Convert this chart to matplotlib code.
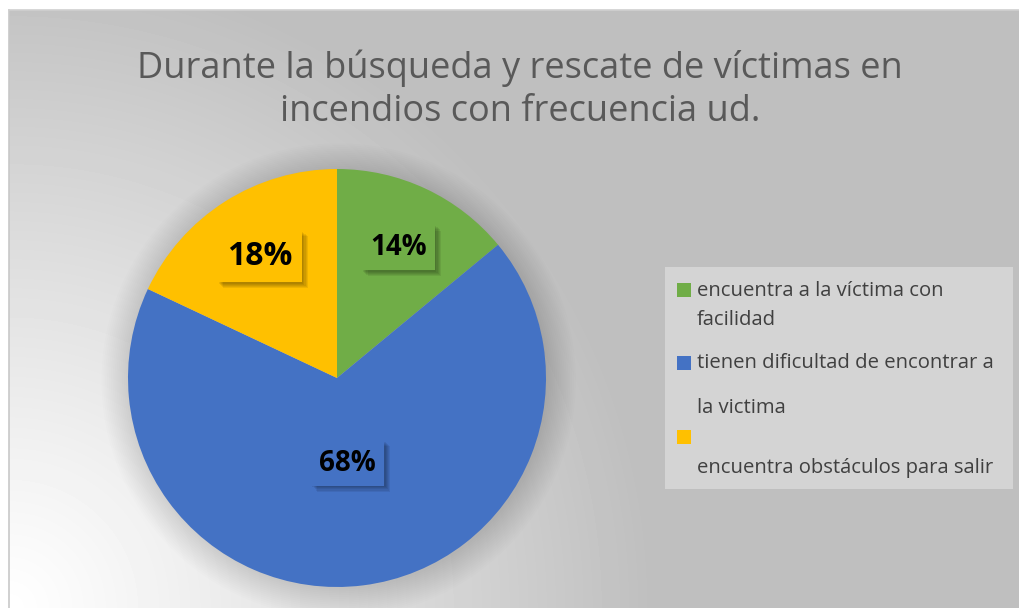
import numpy as np
import matplotlib.pyplot as plt
from matplotlib.patches import Rectangle, Circle
import matplotlib.patheffects as pe

title = "Durante la búsqueda y rescate de víctimas en\nincendios con frecuencia ud."
categories = ["encuentra a la víctima con facilidad",
              "tienen dificultad de encontrar a la victima",
              "encuentra obstáculos para salir"]
legend_lines = [["encuentra a la víctima con", "facilidad"],
                ["tienen dificultad de encontrar a", "la victima"],
                ["", "encuentra obstáculos para salir"]]
values = [14, 68, 18]
colors = ["#70AD47", "#4472C4", "#FFC000"]
label_dist = [0.69, 0.41, 0.69]
label_size = [20, 20, 23]

W, H = 1019, 608
fig = plt.figure(figsize=(W / 100, H / 100), dpi=100)
fig.patch.set_facecolor("white")

# gradient background, light at bottom-left
bg = fig.add_axes([9 / W, 0, 1 - 9 / W, (H - 10) / H])
yy, xx = np.mgrid[0:H - 10, 0:W - 9]
d = np.hypot(xx, (H - 10) - yy)
t = np.clip(d / 640, 0, 1)
val = (255 - 64 * t ** 1.1) / 255
bg.imshow(val, cmap="gray", vmin=0, vmax=1, aspect="auto", interpolation="bilinear")
bg.set_axis_off()
fig.add_artist(plt.Line2D([9 / W, 9 / W], [0, (H - 10) / H], color="#c8c8c8", lw=1.2))
fig.add_artist(plt.Line2D([9 / W, 1], [(H - 10) / H, (H - 10) / H], color="#d0d0d0", lw=1.2))

fig.text(520 / W, 1 - 90 / H, title, ha="center", va="center", fontsize=26,
         color="#595959", family="Open Sans", linespacing=1.25)

# pie
cx, cy, r = 337, 378, 209
ax = fig.add_axes([(cx - r) / W, (H - cy - r) / H, 2 * r / W, 2 * r / H])
for k in range(16):
    ax.add_patch(Circle((0.008, -0.012), 1.0 + 0.009 * k, color="black", alpha=0.009,
                        lw=0, clip_on=False, zorder=0))
wedges, _ = ax.pie(values, colors=colors, startangle=90, counterclock=False,
                   wedgeprops=dict(linewidth=0))
for w in wedges:
    w.set_zorder(2)
ax.set_xlim(-1, 1)
ax.set_ylim(-1, 1)

# soft shadow for the data label boxes
soft = [pe.SimplePatchShadow(offset=(o, -o), shadow_rgbFace="black", alpha=0.07)
        for o in (1, 1.8, 2.6, 3.4, 4.2)]
for w, v, c, dist, fs in zip(wedges, values, colors, label_dist, label_size):
    ang = np.deg2rad((w.theta1 + w.theta2) / 2)
    tx = ax.text(dist * np.cos(ang), dist * np.sin(ang), f"{v}%", ha="center", va="center",
                 fontsize=fs, fontweight="bold", color="black", family="Open Sans", zorder=5,
                 bbox=dict(boxstyle="square,pad=0.3", fc=c, ec="none"))
    tx.get_bbox_patch().set_path_effects(soft + [pe.Normal()])

# legend
fig.add_artist(Rectangle((665 / W, 1 - 489 / H), 348 / W, 222 / H, transform=fig.transFigure,
                         fc="#d4d4d4", ec="none"))
sq_y = [290, 363, 437]
line_y = [[291, 320], [363, 408], [437, 468]]
for c, lines, sy, ly in zip(colors, legend_lines, sq_y, line_y):
    fig.add_artist(Rectangle((677 / W, 1 - (sy + 7) / H), 14 / W, 14 / H,
                             transform=fig.transFigure, fc=c, ec="none"))
    for s, y in zip(lines, ly):
        fig.text(697 / W, 1 - y / H, s, ha="left", va="center", fontsize=14.6,
                 color="#404040", family="Open Sans")

fig.savefig("out.png", dpi=100)
